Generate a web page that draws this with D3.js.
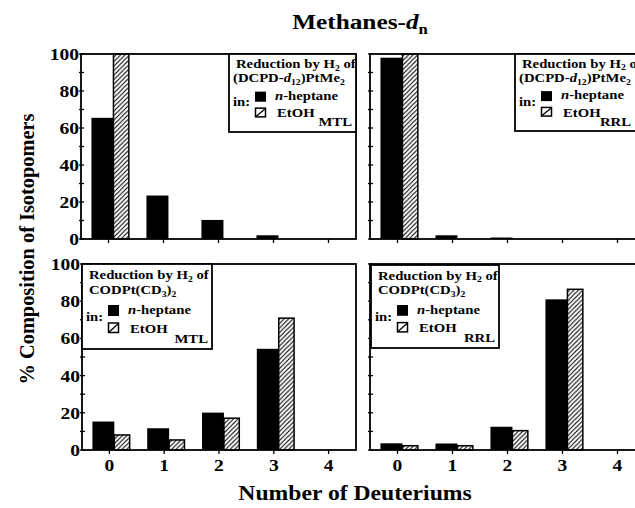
<!DOCTYPE html>
<html><head><meta charset="utf-8">
<script src="https://cdn.jsdelivr.net/npm/d3@7"></script>
<style>body{margin:0;background:#fff}svg{display:block}</style>
</head><body>
<svg id="c" width="635" height="508"></svg>
<script>
// ---- data ----
const categories = [0, 1, 2, 3, 4];
const yTickValues = [0, 20, 40, 60, 80, 100];
const yMinorValues = [0, 10, 20, 30, 40, 50, 60, 70, 80, 90, 100];
const heptaneDcpdMTL = [65.5, 23.5, 10.3, 2, 0];
const ethanolDcpdMTL = [100, 0, 0, 0, 0];
const heptaneDcpdRRL = [98, 2, 0.8, 0, 0];
const ethanolDcpdRRL = [100, 0, 0, 0, 0];
const heptaneCodMTL = [15.3, 11.7, 20.1, 54.4, 0];
const ethanolCodMTL = [8.1, 5.4, 17.1, 70.9, 0];
const heptaneCodRRL = [3.6, 3.5, 12.5, 81, 0];
const ethanolCodRRL = [2.3, 2.3, 10.4, 86.4, 0];
const titleText = "Methanes-";
const xAxisTitle = "Number of Deuteriums";
const yAxisTitle = "% Composition of Isotopomers";

// ---- layout ----
const SX = 1.15;
const FONT = "Liberation Serif, 'Times New Roman', serif";
const svg = d3.select("#c");
const defs = svg.append("defs");
defs.append("pattern").attr("id", "hatch").attr("patternUnits", "userSpaceOnUse")
  .attr("width", 4.5).attr("height", 4.5)
  .append("path").attr("d", "M-1,1 l2,-2 M0,4.5 l4.5,-4.5 M3.5,5.5 l2,-2")
  .attr("stroke", "#000").attr("stroke-width", 1.1);

function txt(parent, x, y, size, anchor, parts, rot, sx) {
  const k = sx === undefined ? SX : sx;
  const t = parent.append("text")
    .attr("transform", `translate(${x},${y})${rot ? ` rotate(${rot})` : ""} scale(${k},1)`)
    .attr("font-family", FONT).attr("font-weight", "bold")
    .attr("font-size", size).attr("text-anchor", anchor).attr("fill", "#000");
  let inSub = false;
  parts.forEach(p => {
    if (typeof p === "string") p = {t: p};
    const s = t.append("tspan").text(p.t);
    if (p.i) s.attr("font-style", "italic");
    if (p.sub) {
      s.attr("font-size", size * 0.66);
      if (!inSub) s.attr("dy", size * 0.22);
      inSub = true;
    } else if (inSub) {
      s.attr("dy", -size * 0.22);
      inSub = false;
    }
  });
  return t;
}

const panels = [
  {x0: 81, x1: 356, y0: 54, y1: 239, hep: heptaneDcpdMTL, eth: ethanolDcpdMTL, yLabels: true, xLabels: false,
   lg: {x0: 229, x1: 356, y0: 54, y1: 132, kind: "dcpd", tag: "MTL"}},
  {x0: 370, x1: 645, y0: 54, y1: 239, hep: heptaneDcpdRRL, eth: ethanolDcpdRRL, yLabels: false, xLabels: false,
   lg: {x0: 515, x1: 650, y0: 54, y1: 131, kind: "dcpd", tag: "RRL"}},
  {x0: 82, x1: 356, y0: 264, y1: 450, hep: heptaneCodMTL, eth: ethanolCodMTL, yLabels: true, xLabels: true,
   lg: {x0: 82, x1: 212, y0: 264, y1: 349, kind: "cod", tag: "MTL"}},
  {x0: 370, x1: 645, y0: 264, y1: 450, hep: heptaneCodRRL, eth: ethanolCodRRL, yLabels: false, xLabels: true,
   lg: {x0: 371, x1: 499, y0: 265, y1: 348, kind: "cod", tag: "RRL"}}
];

panels.forEach(p => {
  const g = svg.append("g");
  const x = d3.scaleBand().domain(categories).range([p.x0, p.x1]).paddingInner(0).paddingOuter(0);
  const y = d3.scaleLinear().domain([0, 100]).range([p.y1, p.y0]);
  const bw = x.bandwidth();

  g.selectAll(".hep").data(categories.filter((c, i) => p.hep[i] > 0)).join("rect")
    .attr("x", c => x(c) + bw * 0.19).attr("width", bw * 0.4)
    .attr("y", c => y(p.hep[c])).attr("height", c => y(0) - y(p.hep[c]))
    .attr("fill", "#000");
  g.selectAll(".eth").data(categories.filter((c, i) => p.eth[i] > 0)).join("rect")
    .attr("x", c => x(c) + bw * 0.59).attr("width", bw * 0.28)
    .attr("y", c => y(p.eth[c])).attr("height", c => y(0) - y(p.eth[c]))
    .attr("fill", "url(#hatch)").attr("stroke", "#000").attr("stroke-width", 1.5);

  g.append("rect").attr("x", p.x0).attr("y", p.y0).attr("width", p.x1 - p.x0).attr("height", p.y1 - p.y0)
    .attr("fill", "none").attr("stroke", "#000").attr("stroke-width", 1.8);

  g.selectAll(".yt").data(yMinorValues).join("line")
    .attr("x1", p.x0 - 2).attr("x2", p.x0 + 3).attr("y1", d => y(d)).attr("y2", d => y(d))
    .attr("stroke", "#000").attr("stroke-width", 1.3);
  if (p.yLabels) {
    yTickValues.forEach(v => txt(g, p.x0 - 2, y(v) + 6, 17, "end", [String(v)]));
  }
  g.selectAll(".xt").data(categories).join("line")
    .attr("x1", c => x(c) + bw / 2).attr("x2", c => x(c) + bw / 2)
    .attr("y1", p.y1).attr("y2", p.y1 + 4).attr("stroke", "#000").attr("stroke-width", 1.3);
  if (p.xLabels) {
    categories.forEach(c => txt(g, x(c) + bw / 2, p.y1 + 21, 17, "middle", [String(c)]));
  }

  const L = p.lg, h = L.y1 - L.y0, f = h / 85;
  g.append("rect").attr("x", L.x0).attr("y", L.y0).attr("width", L.x1 - L.x0).attr("height", h)
    .attr("fill", "#fff").attr("stroke", "#000").attr("stroke-width", 1.8);
  const tx = L.x0 + 7;
  const fs = 12.8;
  txt(g, tx, L.y0 + 15 * f, fs, "start", ["Reduction by H", {t: "2", sub: true}, " of"]);
  if (L.kind === "dcpd") {
    txt(g, tx - 3, L.y0 + 31 * f, fs, "start", ["(DCPD-", {t: "d", i: true}, {t: "12", sub: true}, ")PtMe", {t: "2", sub: true}]);
  } else {
    txt(g, tx, L.y0 + 30 * f, fs, "start", ["CODPt(CD", {t: "3", sub: true}, ")", {t: "2", sub: true}]);
  }
  txt(g, L.x0 + 4, L.y0 + 57 * f, fs, "start", ["in:"]);
  g.append("rect").attr("x", L.x0 + 26).attr("y", L.y0 + 41 * f).attr("width", 11).attr("height", 11 * f).attr("fill", "#000");
  txt(g, L.x0 + 46, L.y0 + 50 * f, fs, "start", [{t: "n", i: true}, "-heptane"]);
  g.append("rect").attr("x", L.x0 + 26.5).attr("y", L.y0 + 59 * f).attr("width", 10).attr("height", 9.5 * f)
    .attr("fill", "#fff").attr("stroke", "#000").attr("stroke-width", 1.5);
  g.append("line").attr("x1", L.x0 + 27).attr("y1", L.y0 + 68 * f).attr("x2", L.x0 + 36).attr("y2", L.y0 + 60 * f)
    .attr("stroke", "#000").attr("stroke-width", 1.3);
  txt(g, L.x0 + 48, L.y0 + 69 * f, fs, "start", ["EtOH"]);
  txt(g, Math.min(L.x1, 635) - 4, L.y0 + 79 * f, fs, "end", [L.tag]);
});

txt(svg, 360, 29, 22, "middle", [titleText, {t: "d", i: true}, {t: "n", sub: true}]);
txt(svg, 355, 500, 21.5, "middle", [xAxisTitle], null, 1.1);
txt(svg, 34, 249, 21, "middle", [yAxisTitle], -90, 0.97);
</script>
</body></html>
